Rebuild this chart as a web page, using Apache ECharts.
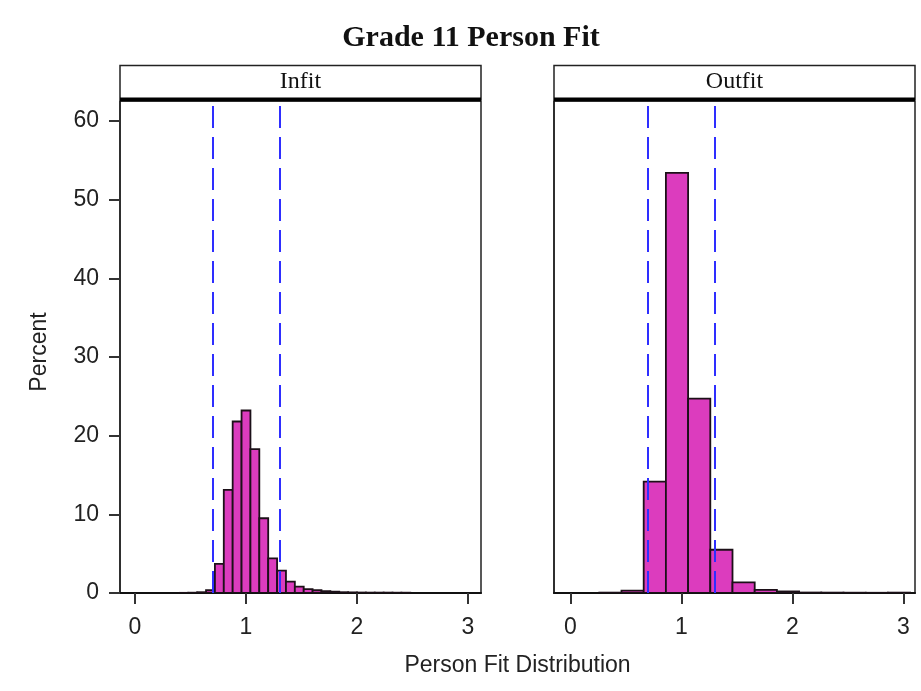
<!DOCTYPE html>
<html>
<head>
<meta charset="utf-8">
<script src="https://cdn.jsdelivr.net/npm/echarts@6/dist/echarts.min.js"></script>
<style>html,body{margin:0;padding:0;background:#fff}#c{width:921px;height:691px}</style>
</head>
<body>
<div id="c"></div>
<script>
// ---- data ----
const chartTitle = 'Grade 11 Person Fit';
const panelNames = ['Infit', 'Outfit'];
const xTitle = 'Person Fit Distribution';
const yTitle = 'Percent';
const xTicks = [0, 1, 2, 3];
const yTicks = [0, 10, 20, 30, 40, 50, 60];
const refLines = [0.7, 1.3];

const infitWidth = 0.08;
const infitCenters = [0.44, 0.52, 0.60, 0.68, 0.76, 0.84, 0.92, 1.00, 1.08, 1.16, 1.24, 1.32, 1.40, 1.48, 1.56, 1.64, 1.72, 1.80, 1.88, 1.96, 2.04, 2.12, 2.20, 2.28, 2.36, 2.44];
const infitPct = [0.02, 0.04, 0.1, 0.35, 3.7, 13.1, 21.8, 23.2, 18.3, 9.5, 4.4, 2.85, 1.45, 0.8, 0.5, 0.35, 0.25, 0.17, 0.1, 0.08, 0.06, 0.05, 0.05, 0.05, 0.04, 0.04];

const outfitWidth = 0.2;
const outfitCenters = [0.36, 0.56, 0.76, 0.96, 1.16, 1.36, 1.56, 1.76, 1.96, 2.16, 2.36, 2.56, 2.76, 2.96];
const outfitPct = [0.05, 0.3, 14.15, 53.4, 24.7, 5.5, 1.36, 0.4, 0.2, 0.06, 0.05, 0.04, 0.03, 0.05];

// ---- layout / style ----
const grids = [
  {left: 120, top: 101, width: 361, height: 492},
  {left: 554, top: 101, width: 361, height: 492}
];
const xRanges = [[-0.135, 3.117], [-0.148, 3.104]];
const yMax = 62.54;
const barFill = '#DC3CBE';
const barEdge = '#1c1018';
const refColor = '#2E2EFF';
const sans = 'Liberation Sans, Arial, sans-serif';
const serif = 'Liberation Serif, Times New Roman, serif';

function bins(centers, pct, w) {
  return centers.map((c, i) => [c - w / 2, c + w / 2, pct[i]]);
}

function renderBar(params, api) {
  const lo = api.value(0), hi = api.value(1), v = api.value(2);
  const p0 = api.coord([lo, v]);
  const p1 = api.coord([hi, 0]);
  return {
    type: 'rect',
    shape: {x: p0[0], y: p0[1], width: p1[0] - p0[0], height: p1[1] - p0[1]},
    style: {fill: barFill, stroke: barEdge, lineWidth: 1.8}
  };
}

const chart = echarts.init(document.getElementById('c'), null, {renderer: 'canvas'});

const xAxes = grids.map((g, i) => ({
  type: 'value', gridIndex: i, min: xRanges[i][0], max: xRanges[i][1],
  splitLine: {show: false},
  axisLine: {show: true, onZero: false, lineStyle: {color: '#111', width: 2}},
  axisTick: {show: true, length: 11, customValues: xTicks, lineStyle: {color: '#333', width: 2}},
  axisLabel: {show: true, customValues: xTicks, margin: 23, fontFamily: sans, fontSize: 23, color: '#222'}
}));
const yAxes = grids.map((g, i) => ({
  type: 'value', gridIndex: i, min: 0, max: yMax, position: 'left',
  splitLine: {show: false},
  axisLine: {show: true, onZero: false, lineStyle: {color: '#222', width: 1.5}},
  axisTick: {show: i === 0, length: 11, customValues: yTicks, lineStyle: {color: '#333', width: 2}},
  axisLabel: {show: i === 0, customValues: yTicks, margin: 21, fontFamily: sans, fontSize: 23, color: '#222'}
}));

const graphics = [];
grids.forEach((g, i) => {
  graphics.push({
    type: 'rect', z: 10,
    shape: {x: g.left, y: 65.5, width: g.width, height: 34},
    style: {fill: '#fff', stroke: '#222', lineWidth: 1.5}
  });
  graphics.push({
    type: 'line', z: 11,
    shape: {x1: g.left, y1: 99.5, x2: g.left + g.width, y2: 99.5},
    style: {stroke: '#000', lineWidth: 4}
  });
  graphics.push({
    type: 'text', z: 12, x: g.left + g.width / 2, y: 82,
    style: {text: panelNames[i], font: '24px ' + serif, fill: '#111', textAlign: 'center', textVerticalAlign: 'middle'}
  });
});
graphics.push({
  type: 'text', z: 12, x: 471, y: 38,
  style: {text: chartTitle, font: 'bold 30px ' + serif, fill: '#111', textAlign: 'center', textVerticalAlign: 'middle'}
});
graphics.push({
  type: 'text', z: 12, x: 517.5, y: 666,
  style: {text: xTitle, font: '23px ' + sans, fill: '#222', textAlign: 'center', textVerticalAlign: 'middle'}
});
graphics.push({
  type: 'text', z: 12, x: 40, y: 352, rotation: Math.PI / 2,
  style: {text: yTitle, font: '23px ' + sans, fill: '#222', textAlign: 'center', textVerticalAlign: 'middle'}
});

const datasets = [bins(infitCenters, infitPct, infitWidth), bins(outfitCenters, outfitPct, outfitWidth)];

const series = [];
datasets.forEach((d, i) => {
  series.push({
    type: 'custom', xAxisIndex: i, yAxisIndex: i, renderItem: renderBar,
    encode: {x: [0, 1], y: 2}, data: d, z: 2, clip: true
  });
  series.push({
    type: 'line', xAxisIndex: i, yAxisIndex: i, data: [], z: 5,
    markLine: {
      silent: true, symbol: ['none', 'none'], label: {show: false},
      lineStyle: {color: refColor, width: 2, type: [22, 9]},
      emphasis: {disabled: true},
      data: refLines.map(v => ({xAxis: v}))
    }
  });
});

chart.setOption({
  animation: false,
  backgroundColor: '#fff',
  grid: grids.map(g => Object.assign({show: true, borderColor: '#222', borderWidth: 1.5, backgroundColor: 'transparent'}, g)),
  xAxis: xAxes,
  yAxis: yAxes,
  graphic: graphics,
  series: series
});
</script>
</body>
</html>
